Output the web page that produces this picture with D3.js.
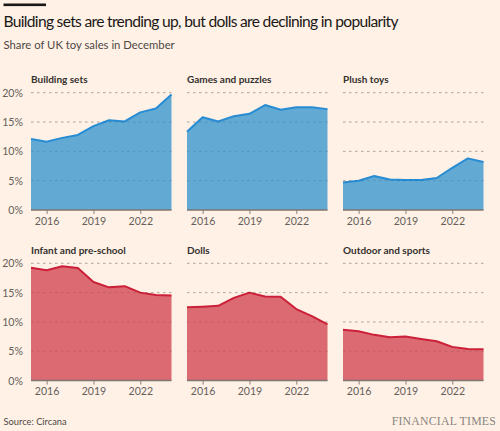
<!DOCTYPE html>
<html>
<head>
<meta charset="utf-8">
<script src="https://cdn.jsdelivr.net/npm/d3@7"></script>
<style>
  body { margin: 0; background: #fff1e5; }
  svg { display: block; font-family: Lato, sans-serif; }
  .title { font-size: 15.6px; fill: #1a1817; }
  .subtitle { font-size: 11.3px; fill: #4d4845; }
  .panelTitle { font-size: 10px; fill: #33302e; font-weight: bold; }
  .tick text { font-family: Lato, sans-serif; font-size: 10.6px; fill: #66605c; }
  .source { font-size: 9.3px; fill: #4d4845; }
  .brand { font-family: 'Liberation Serif', serif; font-size: 11.8px; fill: #8a8580; letter-spacing: 0.2px; }
</style>
</head>
<body>
<svg id="chart" width="500" height="431"></svg>
<script>
// data (share of UK toy sales in December, %)
const years = [2015, 2016, 2017, 2018, 2019, 2020, 2021, 2022, 2023, 2024];
const categories = ['Building sets', 'Games and puzzles', 'Plush toys',
  'Infant and pre-school', 'Dolls', 'Outdoor and sports'];

const buildingSets = [12.1, 11.65, 12.3, 12.8, 14.3, 15.3, 15.1, 16.65, 17.3, 19.7];
const gamesPuzzles = [13.35, 15.8, 15.1, 16.0, 16.4, 17.9, 17.1, 17.5, 17.5, 17.2];
const plushToys = [4.7, 5.0, 5.8, 5.2, 5.1, 5.1, 5.45, 7.2, 8.8, 8.2];
const infantPreschool = [19.25, 18.8, 19.5, 19.2, 16.8, 15.9, 16.1, 15.0, 14.6, 14.5];
const dolls = [12.5, 12.6, 12.75, 14.1, 15.0, 14.35, 14.3, 12.2, 11.0, 9.6];
const outdoorSports = [8.65, 8.4, 7.8, 7.4, 7.5, 7.1, 6.7, 5.75, 5.4, 5.35];

const seriesList = [buildingSets, gamesPuzzles, plushToys, infantPreschool, dolls, outdoorSports];
const yTicks = [0, 5, 10, 15, 20];
const xTicks = [2016, 2019, 2022];

const svg = d3.select('#chart');

// layout
const colLeft = [31, 187, 343],
  colWidth = 140.5,
  rowTop = [92.7, 263.3],
  rowHeight = 117.3;

const blue = { fill: '#62a9d3', line: '#278cd4' },
  red = { fill: '#dc6a72', line: '#cc1f38' };

// header
svg.append('rect')
  .attr('x', 3.5).attr('y', 3.5).attr('width', 42.5).attr('height', 2.6)
  .attr('fill', '#1a1817');

svg.append('text').attr('class', 'title')
  .attr('x', 3.5).attr('y', 27)
  .attr('textLength', 395)
  .attr('lengthAdjust', 'spacing')
  .text('Building sets are trending up, but dolls are declining in popularity');

svg.append('text').attr('class', 'subtitle')
  .attr('x', 3.5).attr('y', 48.5)
  .text('Share of UK toy sales in December');

// shared scales
const x = d3.scaleLinear()
  .domain([d3.min(years), d3.max(years)])
  .range([0, colWidth]);

const y = d3.scaleLinear()
  .domain([0, 20])
  .range([rowHeight, 0]);

const area = d3.area()
  .x((d, i) => x(years[i]))
  .y0(y(0))
  .y1(d => y(d));

const line = d3.line()
  .x((d, i) => x(years[i]))
  .y(d => y(d));

categories.forEach((name, k) => {
  const col = k % 3, row = Math.floor(k / 3);
  const c = row === 0 ? blue : red;

  const g = svg.append('g')
    .attr('transform', `translate(${colLeft[col]}, ${rowTop[row]})`);

  // panel title
  g.append('text').attr('class', 'panelTitle')
    .attr('x', 0).attr('y', -9.5)
    .text(name);

  // gridlines
  g.selectAll('.grid').data(yTicks.filter(d => d > 0))
    .join('line')
    .attr('class', 'grid')
    .attr('x1', 0).attr('x2', colWidth)
    .attr('y1', d => y(d)).attr('y2', d => y(d))
    .attr('stroke', '#c7bcb2')
    .attr('stroke-width', 1)
    .attr('stroke-dasharray', '2.5,3.5');

  // area + line
  g.append('path')
    .datum(seriesList[k])
    .attr('d', area)
    .attr('fill', c.fill);

  g.append('path')
    .datum(seriesList[k])
    .attr('d', line)
    .attr('fill', 'none')
    .attr('stroke', c.line)
    .attr('stroke-width', 2)
    .attr('stroke-linejoin', 'round');

  // gridlines drawn over the fill, faint
  g.selectAll('.gridOver').data(yTicks.filter(d => d > 0))
    .join('line')
    .attr('class', 'gridOver')
    .attr('x1', 0).attr('x2', colWidth)
    .attr('y1', d => y(d)).attr('y2', d => y(d))
    .attr('stroke', '#000')
    .attr('stroke-opacity', 0.12)
    .attr('stroke-width', 1)
    .attr('stroke-dasharray', '2.5,3.5');

  // x axis
  const xAxis = d3.axisBottom(x)
    .tickValues(xTicks)
    .tickFormat(d3.format('d'))
    .tickSize(4)
    .tickPadding(3);

  const xg = g.append('g')
    .attr('transform', `translate(0, ${rowHeight})`)
    .call(xAxis);
  xg.select('.domain').remove();
  xg.selectAll('.tick line').attr('stroke', '#8a8580');

  // baseline
  g.append('line')
    .attr('x1', 0).attr('x2', colWidth)
    .attr('y1', y(0)).attr('y2', y(0))
    .attr('stroke', '#7d7671')
    .attr('stroke-width', 1.5);

  // y axis on the left column only
  if (col === 0) {
    const yAxis = d3.axisLeft(y)
      .tickValues(yTicks)
      .tickFormat(d => d + '%')
      .tickSize(0)
      .tickPadding(8);
    const yg = g.append('g').call(yAxis);
    yg.select('.domain').remove();
  }
});

// footer
svg.append('text').attr('class', 'source')
  .attr('x', 3.5).attr('y', 424.5)
  .text('Source: Circana');

svg.append('text').attr('class', 'brand')
  .attr('x', 496).attr('y', 424.5)
  .attr('text-anchor', 'end')
  .text('FINANCIAL TIMES');
</script>
</body>
</html>
